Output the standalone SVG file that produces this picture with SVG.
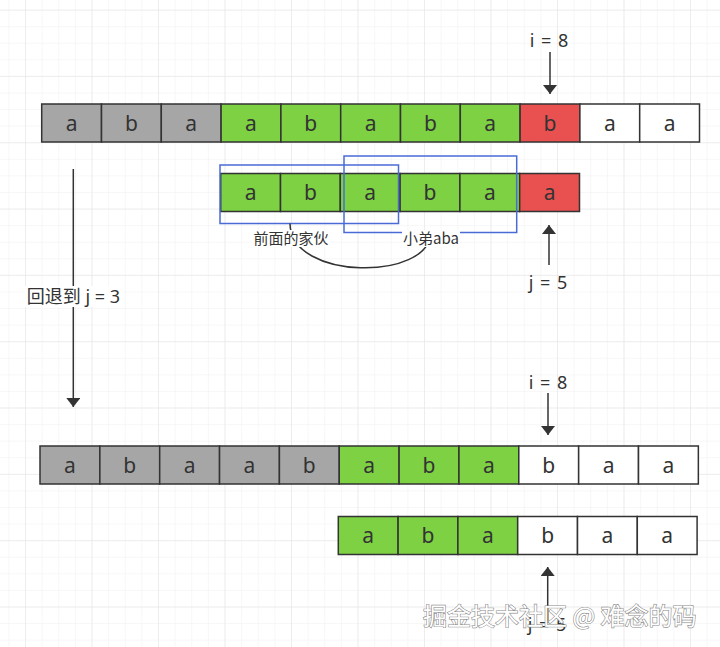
<svg xmlns="http://www.w3.org/2000/svg" width="720" height="647" viewBox="0 0 720 647">
  <defs>
    <pattern id="minor" width="16.625" height="16.58" patternUnits="userSpaceOnUse" x="8.375" y="9.6">
      <path d="M0,0 H16.625 M0,0 V16.58" fill="none" stroke="#efefef" stroke-width="1"/>
    </pattern>
    <pattern id="major" width="66.5" height="66.32" patternUnits="userSpaceOnUse" x="25" y="9.6">
      <path d="M0,0 H66.5 M0,0 V66.32" fill="none" stroke="#e3e3e3" stroke-width="1"/>
    </pattern>
    <marker id="arr" viewBox="0 0 10 10" refX="10" refY="5" markerWidth="9" markerHeight="14" markerUnits="userSpaceOnUse" orient="auto" preserveAspectRatio="none">
      <path d="M0,0 L10,5 L0,10 Z" fill="#333"/>
    </marker>
  </defs>
  <style>
    .c { stroke: #333; stroke-width: 1.5; }
    .g { fill: #a6a6a6; }
    .gr { fill: #7dd143; }
    .r { fill: #e95050; }
    .w { fill: #ffffff; }
    .t { font-family: "Noto Sans", "Liberation Sans", "Noto Sans CJK SC", sans-serif; font-size: 21px; fill: #333; text-anchor: middle; }
    .lbl { font-family: "Noto Sans", "Liberation Sans", "Noto Sans CJK SC", sans-serif; font-size: 18px; fill: #333; text-anchor: middle; }
    .ij { word-spacing: 2px; }
    .sl { font-family: "Noto Sans CJK SC", "Noto Sans", sans-serif; font-size: 15px; fill: #333; text-anchor: middle; }
    .blue { fill: none; stroke: #4a6bd6; stroke-width: 1.5; }
    .ln { fill: none; stroke: #333; stroke-width: 1.5; }
  </style>
  <rect width="720" height="647" fill="#ffffff"/>
  <rect width="720" height="647" fill="url(#minor)"/>
  <rect width="720" height="647" fill="url(#major)"/>

  <g id="row1">
    <rect class="c g" x="41.7" y="104" width="59.8" height="38"/>
    <rect class="c g" x="101.5" y="104" width="59.8" height="38"/>
    <rect class="c g" x="161.3" y="104" width="59.8" height="38"/>
    <rect class="c gr" x="221.1" y="104" width="59.8" height="38"/>
    <rect class="c gr" x="280.9" y="104" width="59.8" height="38"/>
    <rect class="c gr" x="340.7" y="104" width="59.8" height="38"/>
    <rect class="c gr" x="400.5" y="104" width="59.8" height="38"/>
    <rect class="c gr" x="460.3" y="104" width="59.8" height="38"/>
    <rect class="c r" x="520.1" y="104" width="59.8" height="38"/>
    <rect class="c w" x="579.9" y="104" width="59.8" height="38"/>
    <rect class="c w" x="639.7" y="104" width="59.8" height="38"/>
    <text class="t" x="71.6" y="130.5">a</text>
    <text class="t" x="131.4" y="130.5">b</text>
    <text class="t" x="191.2" y="130.5">a</text>
    <text class="t" x="251" y="130.5">a</text>
    <text class="t" x="310.8" y="130.5">b</text>
    <text class="t" x="370.6" y="130.5">a</text>
    <text class="t" x="430.4" y="130.5">b</text>
    <text class="t" x="490.2" y="130.5">a</text>
    <text class="t" x="550" y="130.5">b</text>
    <text class="t" x="609.8" y="130.5">a</text>
    <text class="t" x="669.6" y="130.5">a</text>
  </g>

  <g id="row2">
    <rect class="c gr" x="220.7" y="173.5" width="59.8" height="38"/>
    <rect class="c gr" x="280.5" y="173.5" width="59.8" height="38"/>
    <rect class="c gr" x="340.3" y="173.5" width="59.8" height="38"/>
    <rect class="c gr" x="400.1" y="173.5" width="59.8" height="38"/>
    <rect class="c gr" x="459.9" y="173.5" width="59.8" height="38"/>
    <rect class="c r" x="519.7" y="173.5" width="59.8" height="38"/>
    <text class="t" x="250.6" y="200">a</text>
    <text class="t" x="310.4" y="200">b</text>
    <text class="t" x="370.2" y="200">a</text>
    <text class="t" x="430" y="200">b</text>
    <text class="t" x="489.8" y="200">a</text>
    <text class="t" x="549.6" y="200">a</text>
  </g>

  <g id="box-prev">
    <rect class="blue" x="220" y="165" width="178.5" height="58.5"/>
  </g>
  <g id="box-aba">
    <rect class="blue" x="344" y="156" width="172.7" height="76.5"/>
  </g>

  <g id="row3">
    <rect class="c g" x="40" y="446" width="59.85" height="38"/>
    <rect class="c g" x="99.85" y="446" width="59.85" height="38"/>
    <rect class="c g" x="159.7" y="446" width="59.85" height="38"/>
    <rect class="c g" x="219.55" y="446" width="59.85" height="38"/>
    <rect class="c g" x="279.4" y="446" width="59.85" height="38"/>
    <rect class="c gr" x="339.25" y="446" width="59.85" height="38"/>
    <rect class="c gr" x="399.1" y="446" width="59.85" height="38"/>
    <rect class="c gr" x="458.95" y="446" width="59.85" height="38"/>
    <rect class="c w" x="518.8" y="446" width="59.85" height="38"/>
    <rect class="c w" x="578.65" y="446" width="59.85" height="38"/>
    <rect class="c w" x="638.5" y="446" width="59.85" height="38"/>
    <text class="t" x="69.9" y="472.5">a</text>
    <text class="t" x="129.8" y="472.5">b</text>
    <text class="t" x="189.6" y="472.5">a</text>
    <text class="t" x="249.5" y="472.5">a</text>
    <text class="t" x="309.3" y="472.5">b</text>
    <text class="t" x="369.2" y="472.5">a</text>
    <text class="t" x="429" y="472.5">b</text>
    <text class="t" x="488.9" y="472.5">a</text>
    <text class="t" x="548.7" y="472.5">b</text>
    <text class="t" x="608.6" y="472.5">a</text>
    <text class="t" x="668.4" y="472.5">a</text>
  </g>

  <g id="row4">
    <rect class="c gr" x="338.3" y="516.5" width="59.8" height="38"/>
    <rect class="c gr" x="398.1" y="516.5" width="59.8" height="38"/>
    <rect class="c gr" x="457.9" y="516.5" width="59.8" height="38"/>
    <rect class="c w" x="517.7" y="516.5" width="59.8" height="38"/>
    <rect class="c w" x="577.5" y="516.5" width="59.8" height="38"/>
    <rect class="c w" x="637.3" y="516.5" width="59.8" height="38"/>
    <text class="t" x="368.2" y="543">a</text>
    <text class="t" x="428" y="543">b</text>
    <text class="t" x="487.8" y="543">a</text>
    <text class="t" x="547.6" y="543">b</text>
    <text class="t" x="607.4" y="543">a</text>
    <text class="t" x="667.2" y="543">a</text>
  </g>

  <g id="connectors">
    <line class="ln" x1="550" y1="52" x2="550" y2="94" marker-end="url(#arr)"/>
    <line class="ln" x1="549" y1="265" x2="549" y2="225" marker-end="url(#arr)"/>
    <line class="ln" x1="73.3" y1="169" x2="73.3" y2="407" marker-end="url(#arr)"/>
    <line class="ln" x1="548" y1="393" x2="548" y2="435" marker-end="url(#arr)"/>
    <line class="ln" x1="547.7" y1="622" x2="547.7" y2="567" marker-end="url(#arr)"/>
    <path class="ln" d="M290,223.5 C290,281 430.5,281 430.5,232.5"/>
  </g>

  <g id="labels">
    <text class="lbl ij" x="549" y="47">i = 8</text>
    <text class="lbl ij" x="548" y="289">j = 5</text>
    <rect x="25" y="286" width="97" height="21" fill="#ffffff"/>
    <text class="lbl" x="73.5" y="302.5">回退到 j = 3</text>
    <rect x="252" y="230" width="78" height="17" fill="#ffffff"/>
    <text class="sl" x="291" y="243.5">前面的家伙</text>
    <rect x="402" y="230" width="58" height="17" fill="#ffffff"/>
    <text class="sl" x="431" y="243.5">小弟aba</text>
    <text class="lbl ij" x="548" y="389">i = 8</text>
    <text class="lbl ij" x="547" y="631">j = 5</text>
  </g>

  <g id="watermark">
    <text x="423" y="625" font-family="Noto Sans CJK SC, Noto Sans, sans-serif" font-size="24" fill="#ffffff" stroke="#8a8a8a" stroke-width="1.2" paint-order="stroke">掘金技术社区 @ 难念的码</text>
  </g>
</svg>
